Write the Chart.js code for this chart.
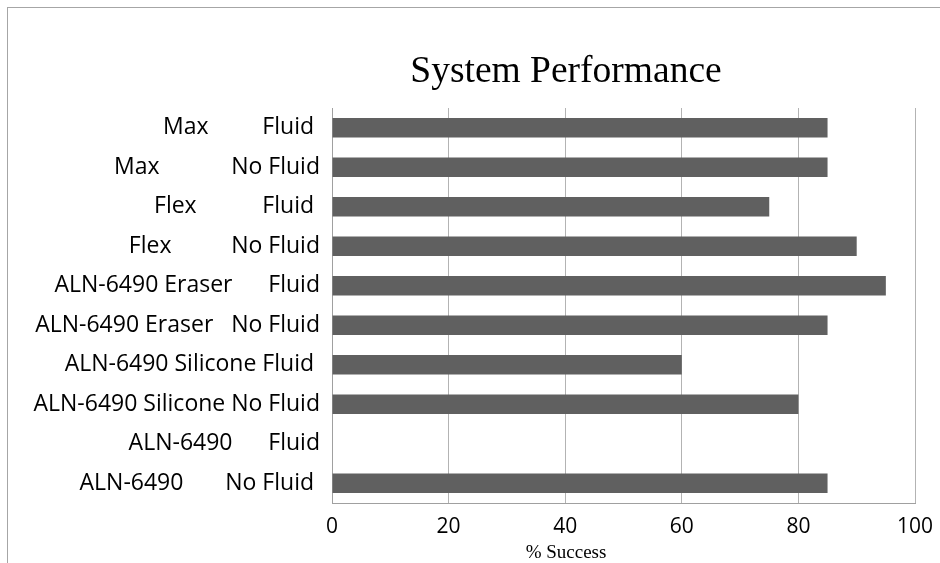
<!DOCTYPE html>
<html>
<head>
<meta charset="utf-8">
<script src="https://cdn.jsdelivr.net/npm/chart.js@4.4.1/dist/chart.umd.min.js"></script>
<style>
  html, body { margin: 0; padding: 0; background: #fff; }
  #frame { position: absolute; left: 7px; top: 7px; width: 940px; height: 563px;
           border-top: 1px solid #a6a6a6; border-left: 1px solid #a6a6a6; }
  canvas { position: absolute; left: 0; top: 0; }
</style>
</head>
<body>
<div id="frame"></div>
<canvas id="chart" width="940" height="563"></canvas>
<script>
// rows listed top to bottom, as in the picture
const categories = [
  'Max         Fluid ',
  'Max            No Fluid',
  'Flex           Fluid ',
  'Flex          No Fluid',
  'ALN-6490 Eraser      Fluid',
  'ALN-6490 Eraser   No Fluid',
  'ALN-6490 Silicone Fluid ',
  'ALN-6490 Silicone No Fluid',
  'ALN-6490      Fluid',
  'ALN-6490       No Fluid '
];
const successPct = [85, 85, 75, 90, 95, 85, 60, 80, 0, 85];
const xTicks = [0, 20, 40, 60, 80, 100];

const titleText = 'System Performance';
const xTitleText = '% Success';

const sans = '"Open Sans"';
const serif = '"Liberation Serif", "Times New Roman", serif';

// title and axis caption sit off-centre in the original, so they are drawn here
const captions = {
  id: 'captions',
  afterDraw(chart) {
    const ctx = chart.ctx;
    ctx.save();
    ctx.fillStyle = '#000';
    ctx.textAlign = 'center';
    ctx.textBaseline = 'alphabetic';
    ctx.font = '37.5px ' + serif;
    ctx.fillText(titleText, 566, 82);
    ctx.font = '19px ' + serif;
    ctx.fillText(xTitleText, 566, 558);
    ctx.restore();
  }
};

new Chart(document.getElementById('chart').getContext('2d'), {
  type: 'bar',
  data: {
    labels: categories,
    datasets: [{
      label: 'Success',
      data: successPct,
      backgroundColor: '#606060',
      borderWidth: 0,
      barPercentage: 0.49,
      categoryPercentage: 1
    }]
  },
  options: {
    indexAxis: 'y',
    responsive: false,
    animation: false,
    layout: { padding: { top: 108, right: 20, left: 0, bottom: 0 } },
    scales: {
      x: {
        min: 0,
        max: 100,
        afterFit: (s) => { s.height = 60; s.paddingRight = 25; },
        afterBuildTicks: (s) => { s.ticks = xTicks.map(v => ({ value: v })); },
        ticks: { color: '#000', font: { family: sans, size: 21 }, padding: 11, maxRotation: 0 },
        grid: { color: '#b3b3b3', drawTicks: false },
        border: { color: '#a0a0a0' }
      },
      y: {
        afterFit: (s) => { s.width = 332; },
        ticks: { color: '#000', font: { family: sans, size: 23 }, padding: 12 },
        grid: { display: false, drawTicks: false },
        border: { color: '#a0a0a0' }
      }
    },
    plugins: {
      legend: { display: false },
      title: { display: false },
      tooltip: { enabled: false }
    }
  },
  plugins: [captions]
});
</script>
</body>
</html>
